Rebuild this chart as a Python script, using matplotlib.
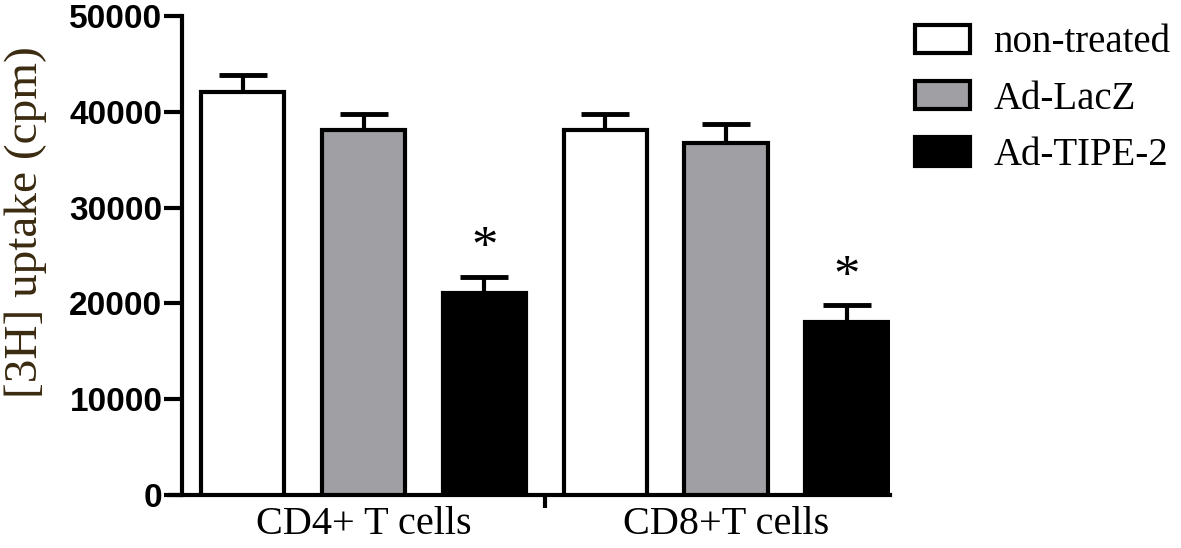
import matplotlib.pyplot as plt
import numpy as np

groups = ["CD4+ T cells", "CD8+T cells"]
treatments = ["non-treated", "Ad-LacZ", "Ad-TIPE-2"]
colors = ["white", "#a0a0a4", "black"]
means = {
    "non-treated": [42100, 38100],
    "Ad-LacZ": [38100, 36700],
    "Ad-TIPE-2": [21100, 18100],
}
sems = {
    "non-treated": [1700, 1700],
    "Ad-LacZ": [1700, 2000],
    "Ad-TIPE-2": [1700, 1700],
}
stars = {"Ad-TIPE-2": ["*", "*"]}

fig = plt.figure(figsize=(11.81, 5.48), dpi=100)
ax = fig.add_axes([0.154, 0.0967, 0.6, 0.874])

width = 0.69
for i, t in enumerate(treatments):
    x = np.arange(len(groups)) * 3 + (i - 1)
    ax.bar(x, means[t], width, color=colors[i], edgecolor="black",
           linewidth=3, label=t, zorder=3)
    ax.errorbar(x, means[t], yerr=[np.zeros(len(groups)), sems[t]],
                fmt="none", ecolor="black", elinewidth=3, capsize=17,
                capthick=3.5, zorder=2)
    if t in stars:
        for xx, m, s, st in zip(x, means[t], sems[t], stars[t]):
            ax.text(xx, m + s + 350, st, ha="center", va="bottom",
                    fontsize=38, family="Liberation Serif", zorder=4)

ax.set_xlim(-1.504, 4.36)
ax.set_ylim(0, 50000)
ax.set_yticks(np.arange(0, 50001, 10000))
ax.set_yticklabels([str(v) for v in range(0, 50001, 10000)],
                   fontsize=24, fontweight="bold", family="Liberation Sans")
ax.tick_params(axis="y", width=3, length=13, pad=1)

ax.set_xticks([0, 3])
ax.set_xticklabels(groups, fontsize=29, family="Liberation Serif")
ax.tick_params(axis="x", length=0, pad=8)
ax.set_xticks([1.5], minor=True)
ax.tick_params(axis="x", which="minor", length=9, width=3)

for s in ["top", "right"]:
    ax.spines[s].set_visible(False)
for s in ["left", "bottom"]:
    ax.spines[s].set_linewidth(3)
ax.spines["bottom"].set_bounds(-1.6, 4.36)

ax.set_ylabel("[3H] uptake (cpm)", fontsize=34, family="Liberation Serif",
              color="#3a2a10")
ax.yaxis.set_label_coords(-0.19, 0.57)

ax.legend(loc="upper left", bbox_to_anchor=(0.762, 0.984),
          bbox_transform=fig.transFigure, frameon=False,
          prop={"family": "Liberation Serif", "size": 28},
          handlelength=1.4, handleheight=0.75, labelspacing=0.5,
          handletextpad=0.6, borderaxespad=0)

fig.savefig("out.png", dpi=100)
